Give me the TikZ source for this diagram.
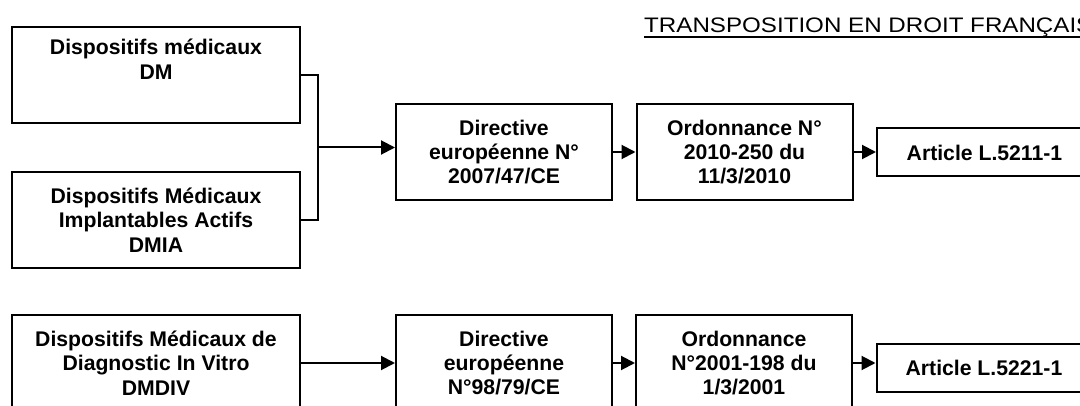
\documentclass[tikz,border=0pt]{standalone}
\usepackage{fontspec}
\setmainfont{Liberation Sans}
\newfontfamily\titlefont[FakeStretch=1.15]{Liberation Sans}
\usetikzlibrary{arrows.meta}
\begin{document}
\begin{tikzpicture}[
	x=1pt, y=-1pt,
	box/.style={rectangle, draw, line width=2pt, inner sep=0pt, align=center,
		minimum width=216pt, minimum height=96pt,
		font=\bfseries\fontsize{21.2}{24.3}\selectfont},
	wide/.style={box, minimum width=288pt},
	flat/.style={box, minimum width=215pt, minimum height=48pt},
	link/.style={line width=2pt},
	arrow/.style={link, -{Triangle[length=14pt,width=14pt]}},
	]
\useasboundingbox (0,0) rectangle (1080,406);
\clip (0,0) rectangle (1080,406);
% title
\node [anchor=base west, inner sep=0pt, font=\titlefont\fontsize{21}{24}\selectfont]
  (title) at (644,33) {TRANSPOSITION EN DROIT FRANÇAIS};
\draw [line width=2pt] ([yshift=-4pt]title.base west) -- ([yshift=-4pt]title.base east);
% first row
\node [wide] (dm) at (156,75) {Dispositifs médicaux\\DM\\\strut};
\node [wide] (dmia) at (156,220) {Dispositifs Médicaux\\Implantables Actifs\\DMIA};
\node [box] (dir1) at (504,152) {Directive\\européenne N°\\2007/47/CE};
\node [box] (ord1) at (744.5,152) {Ordonnance N°\\2010-250 du\\11/3/2010};
\node [flat] (art1) at (984.5,152.5) {Article L.5211-1};
\coordinate (jn) at (318,147.5);
\draw [link] (dm.east) -| (jn |- dmia.east) -- (dmia.east);
\draw [arrow] (jn) -- (jn -| dir1.west);
\draw [arrow] (dir1.east) -- (ord1.west);
\draw [arrow] (ord1.east) -- (ord1.east -| art1.west);
% second row
\node [wide] (dmdiv) at (156,363) {Dispositifs Médicaux de\\Diagnostic In Vitro\\DMDIV};
\node [box] (dir2) at (504,363) {Directive\\européenne\\N°98/79/CE};
\node [box] (ord2) at (744,363) {Ordonnance\\N°2001-198 du\\1/3/2001};
\node [flat] (art2) at (984,368) {Article L.5221-1};
\draw [arrow] (dmdiv.east) -- (dir2.west);
\draw [arrow] (dir2.east) -- (ord2.west);
\draw [arrow] (ord2.east) -- (ord2.east -| art2.west);
\end{tikzpicture}
\end{document}
